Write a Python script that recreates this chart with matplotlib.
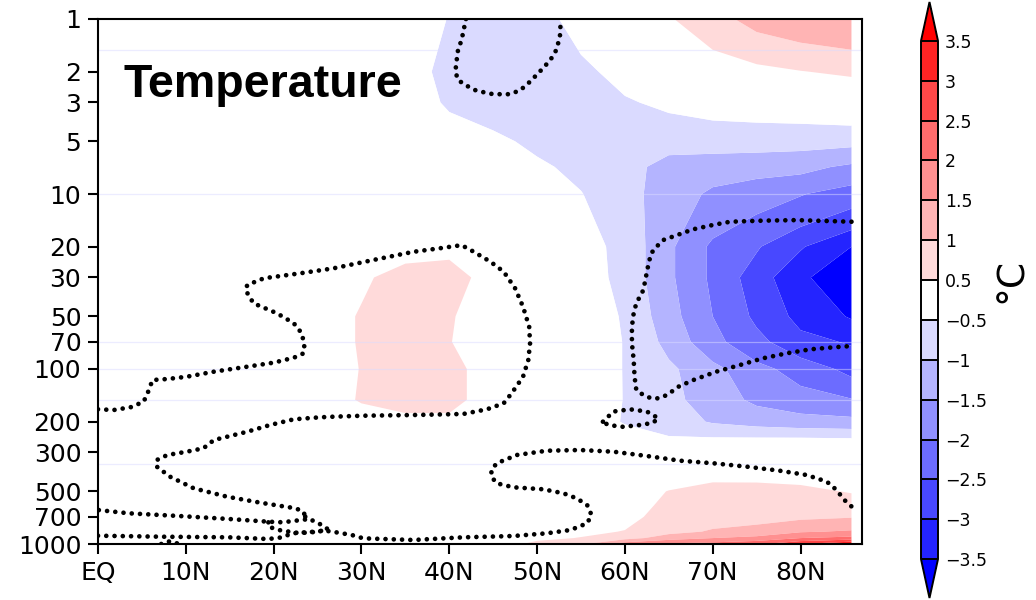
import numpy as np
import matplotlib
matplotlib.use("Agg")
import matplotlib.pyplot as plt
from matplotlib.colors import ListedColormap, BoundaryNorm

# ---------------- data ----------------
lats = [0, 5, 10, 15, 20, 25, 30, 35, 40, 45, 50, 55, 60, 65, 70, 75, 80, 85.8]
levels = [1, 2, 3, 5, 7, 10, 20, 30, 50, 70, 100, 150, 200, 250, 300, 400, 500, 600, 700, 850, 925, 1000]

t_1    = [0.1, 0.1, 0.1, 0.1, 0.05, 0.0, 0.0, -0.2, -0.52, -0.75, -0.65, -0.35, 0.1, 0.45, 0.85, 1.15, 1.3, 1.4]
t_2    = [0.1, 0.1, 0.1, 0.1, 0.05, 0.0, -0.05, -0.35, -0.6, -0.75, -0.7, -0.6, -0.35, -0.05, 0.15, 0.35, 0.48, 0.6]
t_3    = [0.1, 0.1, 0.1, 0.1, 0.05, 0.0, -0.05, -0.3, -0.55, -0.7, -0.75, -0.7, -0.55, -0.4, -0.3, -0.25, -0.2, -0.1]
t_5    = [0.1, 0.1, 0.1, 0.1, 0.05, 0.0, -0.05, -0.15, -0.3, -0.4, -0.6, -0.75, -0.85, -0.85, -0.8, -0.8, -0.82, -0.85]
t_7    = [0.1, 0.1, 0.1, 0.1, 0.05, 0.0, 0.0, -0.1, -0.2, -0.3, -0.42, -0.62, -0.85, -1.15, -1.25, -1.3, -1.35, -1.6]
t_10   = [0.1, 0.1, 0.1, 0.1, 0.05, 0.0, 0.0, -0.05, -0.1, -0.15, -0.3, -0.48, -0.85, -1.2, -1.6, -1.8, -1.97, -2.23]
t_20   = [0.1, 0.1, 0.1, 0.05, 0.0, 0.05, 0.1, 0.3, 0.35, 0.1, -0.2, -0.3, -0.65, -1.4, -2.1, -2.45, -2.95, -3.5]
t_30   = [0.1, 0.1, 0.1, 0.05, 0.0, 0.1, 0.42, 0.7, 0.75, 0.25, -0.15, -0.25, -0.65, -1.4, -2.1, -2.75, -3.4, -3.9]
t_50   = [0.1, 0.1, 0.1, 0.05, 0.05, 0.2, 0.55, 0.75, 0.55, 0.2, -0.1, -0.2, -0.55, -1.3, -2.0, -2.6, -3.15, -3.55]
t_70   = [0.1, 0.1, 0.1, 0.05, 0.05, 0.2, 0.55, 0.75, 0.52, 0.2, -0.1, -0.2, -0.52, -1.15, -1.85, -2.35, -2.85, -3.05]
t_100  = [0.1, 0.1, 0.1, 0.05, 0.05, 0.2, 0.52, 0.75, 0.7, 0.2, -0.1, -0.2, -0.52, -0.9, -1.35, -1.85, -2.2, -2.65]
t_150  = [0.1, 0.1, 0.1, 0.05, 0.05, 0.2, 0.55, 0.7, 0.7, 0.2, -0.05, -0.15, -0.52, -0.85, -1.25, -1.6, -1.8, -1.97]
t_200  = [0.1, 0.1, 0.1, 0.05, 0.05, 0.1, 0.2, 0.35, 0.35, 0.1, 0.0, -0.1, -0.55, -0.75, -1.05, -1.2, -1.3, -1.35]
t_250  = [0.1, 0.1, 0.1, 0.05, 0.05, 0.05, 0.1, 0.1, 0.1, 0.05, 0.0, 0.0, -0.2, -0.45, -0.45, -0.45, -0.45, -0.48]
t_300  = [0.1, 0.1, 0.1, 0.05, 0.05, 0.05, 0.05, 0.05, 0.05, 0.0, 0.0, 0.0, -0.2, -0.1, 0.0, 0.0, -0.1, -0.2]
t_400  = [0.1, 0.1, 0.1, 0.05, 0.05, 0.05, 0.05, 0.05, 0.05, 0.0, 0.0, 0.0, 0.0, 0.2, 0.42, 0.4, 0.35, 0.1]
t_500  = [0.1, 0.1, 0.1, 0.05, 0.05, 0.05, 0.05, 0.05, 0.05, 0.05, 0.05, 0.1, 0.2, 0.52, 0.6, 0.62, 0.6, 0.47]
t_600  = [0.1, 0.1, 0.1, 0.05, 0.05, 0.05, 0.05, 0.05, 0.05, 0.1, 0.15, 0.2, 0.3, 0.6, 0.7, 0.78, 0.75, 0.7]
t_700  = [0.1, 0.1, 0.1, 0.05, 0.05, 0.05, 0.05, 0.05, 0.1, 0.15, 0.2, 0.25, 0.35, 0.7, 0.8, 0.85, 0.9, 0.97]
t_850  = [0.1, 0.1, 0.1, 0.05, 0.05, 0.05, 0.05, 0.1, 0.15, 0.2, 0.3, 0.4, 0.52, 0.85, 1.05, 1.15, 1.45, 1.56]
t_925  = [0.1, 0.1, 0.1, 0.05, 0.05, 0.05, 0.1, 0.15, 0.2, 0.25, 0.4, 0.52, 0.8, 1.25, 1.5, 1.65, 2.0, 2.14]
t_1000 = [0.1, 0.1, 0.1, 0.05, 0.05, 0.1, 0.15, 0.2, 0.2, 0.25, 0.62, 0.9, 1.8, 2.1, 2.2, 2.4, 3.0, 3.6]

# significance outlines (lat, hPa)
sig_top_lat = [41.9, 41.4, 41.0, 40.8, 40.7, 41.0, 41.8, 43.1, 45.0, 46.9, 48.1, 49.2, 50.3, 51.5, 52.2, 52.6, 52.7]
sig_top_p   = [1.0, 1.32, 1.50, 1.79, 2.00, 2.23, 2.38, 2.57, 2.69, 2.69, 2.55, 2.28, 2.00, 1.72, 1.50, 1.26, 1.0]

sig_mid_lat = [0, 1.8, 3.7, 5.2, 5.8, 6.2, 7.9, 10.1, 13.2, 17.0, 20.0, 22.3, 23.4, 23.5, 23.2, 22.3, 20.4, 17.7,
               16.8, 17.0, 18.9, 23.0, 26.8, 31.4, 35.9, 39.0, 41.4, 42.8, 44.7, 46.2, 47.5, 48.4, 49.1, 49.2, 49.0,
               48.4, 47.1, 46.2, 44.3, 41.6, 35.9, 30.2, 26.8, 25.3, 22.3, 19.6, 17.0, 14.7, 13.2, 12.0, 10.1, 7.9,
               6.7, 6.7, 8.2, 10.9, 14.7, 18.5, 22.5, 23.4, 23.6, 23.8, 22.5, 21.0, 19.4, 14.9, 9.2, 3.5, 0]
sig_mid_p   = [169.9, 171.5, 165.5, 153.8, 131.8, 115.6, 114.1, 110.7, 103.6, 97.0, 92.0, 86.2, 81.4, 72.9, 62.5,
               54.8, 48.1, 42.1, 35.4, 33.1, 30.3, 28.4, 26.6, 23.8, 21.4, 20.4, 19.6, 21.4, 24.4, 27.8, 34.6, 44.1,
               57.3, 71.3, 88.8, 110.7, 137.7, 157.0, 169.9, 180.7, 183.2, 184.9, 187.3, 188.8, 193.8, 208.9, 228.2,
               243.8, 254.6, 283.9, 296.9, 310.0, 331.1, 361.6, 412.5, 480.5, 536.7, 580.8, 625.2, 653.7, 698.2,
               722.5, 736.0, 751.6, 745.7, 719.6, 691.8, 667.7, 639.3]

sig_low_lat = [0, 7.3, 14.9, 19.4, 21.0, 22.1, 24.7, 25.9, 27.4, 28.9, 30.2, 35.9, 41.6, 47.3, 51.1, 53.8, 55.7,
               56.2, 55.7, 54.5, 53.0, 50.7, 47.3, 45.4, 44.8, 44.8, 45.4, 47.7, 51.1, 54.9, 58.7, 62.5, 66.3, 70.1,
               73.9, 77.6, 80.7, 83.0, 84.1, 85.0, 85.8]
sig_low_p   = [896.7, 908.6, 915.8, 936.5, 915.8, 868.8, 850.6, 839.5, 861.8, 888.5, 927.9, 948.7, 915.8, 900.2,
               868.8, 831.8, 761.5, 682.8, 598.6, 548.2, 513.2, 486.8, 474.2, 450.0, 412.5, 377.6, 345.8, 310.0,
               293.1, 290.4, 296.9, 314.1, 334.2, 345.8, 361.6, 381.1, 403.4, 440.5, 491.3, 560.7, 610.0]

sig_knot1_lat = [23.6, 24.7, 25.5, 26.3]
sig_knot1_p   = [698, 746, 779, 832]
sig_knot2_lat = [19.4, 19.4, 20.6, 22.5, 24.0, 25.5]
sig_knot2_p   = [752, 796, 832, 862, 862, 840]
sig_tiny_lat  = [7.2, 7.6, 8.3, 8.9, 9.1]
sig_tiny_p    = [1000, 975, 965, 985, 1000]

sig_pol_lat = [85.8, 79.5, 75.7, 72.0, 70.1, 67.8, 65.9, 64.4, 63.6, 63.0, 62.7, 62.4, 62.1, 61.3, 61.0, 60.8,
               60.8, 61.0, 61.1, 61.3, 62.1, 63.0, 63.8, 64.8, 66.1, 67.8, 70.4, 73.1, 75.7, 78.4, 81.1, 83.7, 85.8]
sig_pol_p   = [14.4, 14.1, 14.2, 14.4, 15.0, 15.9, 17.2, 18.3, 20.0, 21.8, 24.9, 29.7, 35.4, 42.1, 48.0, 57.3,
               71.3, 88.8, 110.7, 131.8, 140.8, 147.1, 147.1, 140.8, 126.2, 115.6, 103.6, 94.9, 86.9, 81.4, 77.2,
               75.2, 73.9]

sig_ring_lat = [57.5, 58.7, 60.6, 62.5, 63.8, 63.2, 61.7, 59.8, 58.1, 57.5]
sig_ring_p   = [200, 175, 170, 175, 191, 203, 209, 214, 209, 200]

bounds = [-3.5, -3, -2.5, -2, -1.5, -1, -0.5, 0.5, 1, 1.5, 2, 2.5, 3, 3.5]
y_ticks = [1, 2, 3, 5, 10, 20, 30, 50, 70, 100, 200, 300, 500, 700, 1000]
x_ticks = [0, 10, 20, 30, 40, 50, 60, 70, 80]
x_labels = ["EQ", "10N", "20N", "30N", "40N", "50N", "60N", "70N", "80N"]
faint_levels = [1.5, 10, 70, 100, 150, 350]

# ---------------- figure ----------------
fig = plt.figure(figsize=(10.36, 6.0), dpi=100)
ax = fig.add_axes([98 / 1036, 56 / 600, 764 / 1036, 525 / 600])

Z = np.array([t_1, t_2, t_3, t_5, t_7, t_10, t_20, t_30, t_50, t_70, t_100, t_150, t_200, t_250,
              t_300, t_400, t_500, t_600, t_700, t_850, t_925, t_1000])

inner = ["#2424ff", "#4848ff", "#6c6cff", "#9090ff", "#b4b4ff", "#dadaff", "#ffffff",
         "#ffdada", "#ffb4b4", "#ff9090", "#ff6c6c", "#ff4848", "#ff2424"]
cmap = ListedColormap(inner)
cmap.set_under("#0000ff")
cmap.set_over("#ff0000")
norm = BoundaryNorm(bounds, cmap.N)

cs = ax.contourf(lats, levels, Z, levels=bounds, cmap=cmap, norm=norm, extend="both", antialiased=True)

for lv in faint_levels:
    ax.axhline(lv, color=(0.86, 0.86, 1.0), lw=0.9, alpha=0.5, zorder=2)

dot_style = dict(color="black", lw=3.4, linestyle=(0, (0.001, 1.75)), dash_capstyle="round", zorder=4)
for la, pp in [(sig_top_lat, sig_top_p), (sig_mid_lat, sig_mid_p), (sig_low_lat, sig_low_p),
               (sig_knot1_lat, sig_knot1_p), (sig_knot2_lat, sig_knot2_p), (sig_tiny_lat, sig_tiny_p),
               (sig_pol_lat, sig_pol_p), (sig_ring_lat, sig_ring_p)]:
    ax.plot(la, pp, **dot_style)

ax.set_yscale("log")
ax.set_ylim(1000, 1)
ax.set_xlim(0, 87)
ax.set_yticks(y_ticks)
ax.set_yticklabels([str(v) for v in y_ticks])
ax.yaxis.set_minor_locator(matplotlib.ticker.NullLocator())
ax.set_xticks(x_ticks)
ax.set_xticklabels(x_labels)
ax.tick_params(axis="both", direction="out", length=7, width=1.5, labelsize=18, pad=5, colors="black")
for s in ax.spines.values():
    s.set_linewidth(1.5)
    s.set_zorder(5)

ax.text(0.033, 0.851, "Temperature", transform=ax.transAxes, fontsize=33.5, fontweight="bold",
        family="Liberation Sans", ha="left", va="baseline", zorder=6)

# colorbar
cax = fig.add_axes([921 / 1036, 2 / 600, 17 / 1036, 596 / 600])
cb = fig.colorbar(cs, cax=cax, ticks=bounds, drawedges=True, extendfrac=0.075, spacing="uniform")
cb.ax.set_yticklabels([("\u2212" + str(abs(b)).rstrip("0").rstrip(".")) if b < 0 else
                       str(b).rstrip("0").rstrip(".") for b in bounds])
cb.ax.tick_params(length=0, labelsize=12.5, pad=5)
cb.outline.set_linewidth(1.4)
cb.dividers.set_linewidth(1.4)

fig.text(0.977, 0.533, "\u00b0C", rotation=90, fontsize=27, ha="center", va="center")

fig.savefig("out.png", dpi=100, facecolor="white")
